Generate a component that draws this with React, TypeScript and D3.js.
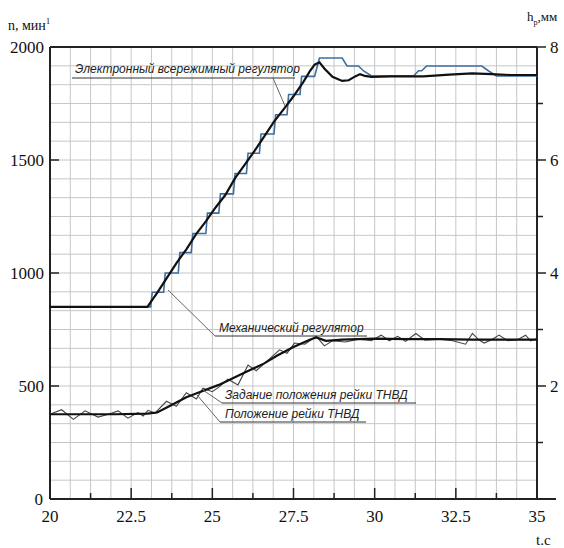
import * as React from 'react'
import * as d3 from 'd3'

// time axis, s
const timeTicks = [20, 22.5, 25, 27.5, 30, 32.5, 35];
const timeMinorTicks = [21.25, 23.75, 26.25, 28.75, 31.25, 33.75];
// left axis, rpm
const speedTicks = [0, 500, 1000, 1500, 2000];
// right axis, mm
const rackTicks = [2, 4, 6, 8];
const rackMinorTicks = [1, 3, 5, 7];

// [t, n]
const electronicSpeed = [
  [20, 850], [23.0, 850], [23.3, 912], [23.6, 978], [23.9, 1045], [24.2, 1105], [24.5, 1172],
  [24.8, 1228], [25.1, 1290], [25.4, 1345], [25.7, 1420], [26.0, 1480], [26.3, 1540],
  [26.6, 1605], [26.9, 1670], [27.2, 1725], [27.5, 1782], [27.8, 1845], [28.0, 1892],
  [28.15, 1922], [28.3, 1932], [28.45, 1905], [28.7, 1868], [29.0, 1850], [29.2, 1853],
  [29.4, 1870], [29.55, 1880], [29.7, 1872], [29.9, 1868], [30.5, 1870], [31.5, 1870],
  [32.3, 1878], [33.0, 1883], [33.6, 1880], [34.2, 1876], [35, 1876],
];

const mechanicalSpeed = [
  [20, 850], [23.1, 850], [23.15, 915], [23.5, 915], [23.55, 1000], [23.95, 1000],
  [24.0, 1090], [24.35, 1090], [24.4, 1175], [24.8, 1175], [24.85, 1265], [25.2, 1265],
  [25.25, 1350], [25.65, 1350], [25.7, 1440], [26.05, 1440], [26.1, 1530], [26.45, 1530],
  [26.5, 1615], [26.9, 1615], [26.95, 1700], [27.3, 1700], [27.35, 1790], [27.7, 1790],
  [27.75, 1870], [28.15, 1870], [28.3, 1951], [29.0, 1951], [29.15, 1916], [29.5, 1916],
  [29.65, 1895], [29.9, 1872], [31.2, 1872], [31.35, 1895], [31.45, 1895], [31.6, 1916],
  [33.3, 1916], [33.5, 1895], [33.75, 1872], [35, 1872],
];

// [t, hр mm]
const rackSetpoint = [
  [20, 1.5], [21, 1.5], [22, 1.5], [23, 1.51], [23.3, 1.53], [23.7, 1.65], [24.2, 1.8],
  [24.6, 1.89], [25.2, 2.02], [26.0, 2.24], [26.6, 2.4], [27.0, 2.54], [27.5, 2.69],
  [28.0, 2.82], [28.2, 2.86], [28.5, 2.8], [29, 2.82], [30, 2.84], [31, 2.83], [32, 2.83],
  [33, 2.82], [34, 2.82], [35, 2.82],
];

const rackPosition = [
  [20, 1.5], [20.36, 1.58], [20.72, 1.41], [21.08, 1.56], [21.48, 1.45], [21.8, 1.5],
  [22.1, 1.56], [22.4, 1.43], [22.71, 1.53], [22.87, 1.47], [23.02, 1.57], [23.23, 1.52],
  [23.59, 1.73], [23.89, 1.64], [24.2, 1.88], [24.51, 1.77], [24.71, 1.96], [25.0, 1.9],
  [25.2, 1.98], [25.48, 2.12], [25.79, 2.02], [26.1, 2.37], [26.35, 2.27], [26.7, 2.45],
  [27.07, 2.64], [27.3, 2.58], [27.53, 2.76], [27.85, 2.74], [28.2, 2.88], [28.45, 2.71],
  [28.7, 2.8], [29.1, 2.78], [29.5, 2.83], [29.9, 2.8], [30.2, 2.9], [30.45, 2.8],
  [30.71, 2.88], [30.95, 2.79], [31.27, 2.93], [31.55, 2.81], [32.0, 2.83], [32.4, 2.8],
  [32.8, 2.74], [33.01, 2.93], [33.2, 2.82], [33.37, 2.76], [33.6, 2.82], [33.83, 2.9],
  [34.1, 2.8], [34.4, 2.82], [34.65, 2.9], [34.8, 2.8], [35, 2.84],
];

const serif = { fontFamily: 'Liberation Serif, serif' };
const sans = { fontFamily: 'Liberation Sans, Arial, sans-serif', fontStyle: 'italic' };

const App = () => {
  const width = 564;
  const height = 548;
  const left = 50, right = 537, top = 47, bottom = 499;

  const x = d3.scaleLinear().domain([20, 35]).range([left, right]);
  const yN = d3.scaleLinear().domain([0, 2000]).range([bottom, top]);
  const yH = d3.scaleLinear().domain([0, 8]).range([bottom, top]);

  const lineN = d3.line<number[]>().x(d => x(d[0])).y(d => yN(d[1]));
  const lineH = d3.line<number[]>().x(d => x(d[0])).y(d => yH(d[1]));

  const gridX = d3.range(0, 25).map(i => 20 + i * 0.625);
  const gridY = d3.range(0, 25).map(i => i * 2000 / 24);

  return (
    <svg width={width} height={height}
      style={{ position: 'absolute', left: 0, top: 0, display: 'block', background: '#fff' }}>
      {/* grid */}
      <g stroke="#c6c6c6" strokeWidth={1}>
        {gridX.map((t, i) => <line key={'gx' + i} x1={x(t)} x2={x(t)} y1={top} y2={bottom} />)}
        {gridY.map((v, i) => <line key={'gy' + i} x1={left} x2={right} y1={yN(v)} y2={yN(v)} />)}
      </g>

      {/* frame */}
      <g stroke="#222" fill="none">
        <line x1={left} x2={right} y1={top} y2={top} strokeWidth={2} />
        <line x1={left} x2={left} y1={top} y2={bottom} strokeWidth={2} />
        <line x1={right} x2={right} y1={top} y2={bottom} strokeWidth={2} />
        <line x1={left} x2={556} y1={bottom} y2={bottom} strokeWidth={2} />
      </g>

      {/* ticks */}
      <g stroke="#222" strokeWidth={1.5}>
        {timeTicks.map(t => <line key={'tt' + t} x1={x(t)} x2={x(t)} y1={bottom} y2={bottom - 11} />)}
        {timeMinorTicks.map(t => <line key={'tm' + t} x1={x(t)} x2={x(t)} y1={bottom} y2={bottom - 6} />)}
        {speedTicks.slice(1, 4).map(v => <line key={'st' + v} x1={left} x2={left + 9} y1={yN(v)} y2={yN(v)} />)}
        {rackTicks.map(v => <line key={'rt' + v} x1={right} x2={right + 9} y1={yH(v)} y2={yH(v)} />)}
        {rackMinorTicks.map(v => <line key={'rm' + v} x1={right} x2={right + 6} y1={yH(v)} y2={yH(v)} />)}
      </g>

      {/* tick labels */}
      <g style={serif} fontSize={17} fill="#111">
        {timeTicks.map(t => (
          <text key={'tl' + t} x={x(t)} y={bottom + 23} textAnchor="middle">{t}</text>
        ))}
        {speedTicks.map(v => (
          <text key={'sl' + v} x={v === 0 ? 43 : 44} y={yN(v) + 6} textAnchor="end">{v}</text>
        ))}
        {rackTicks.map(v => (
          <text key={'rl' + v} x={550} y={yH(v) + 6} textAnchor="start">{v}</text>
        ))}
      </g>

      {/* axis titles */}
      <text x={8} y={30} style={serif} fontSize={14} fill="#111">
        n, мин<tspan dy={-6} fontSize={9}>1</tspan>
      </text>
      <text x={527} y={21} style={serif} fontSize={13} fill="#111">
        h<tspan dy={4} fontSize={8}>р</tspan><tspan dy={-4}>,мм</tspan>
      </text>
      <text x={536} y={545} style={serif} fontSize={15} fill="#111">t.c</text>

      {/* series */}
      <path d={lineN(mechanicalSpeed) || ''} fill="none" stroke="#3f6f9f" strokeWidth={1.6} />
      <path d={lineN(electronicSpeed) || ''} fill="none" stroke="#111" strokeWidth={2.2} />
      <path d={lineH(rackPosition) || ''} fill="none" stroke="#444" strokeWidth={1.1} />
      <path d={lineH(rackSetpoint) || ''} fill="none" stroke="#111" strokeWidth={2.2} />

      {/* annotations */}
      <g stroke="#666" strokeWidth={1} fill="none">
        <line x1={72} x2={295} y1={78} y2={78} stroke="#333" />
        <line x1={273} y1={78} x2={285} y2={106} />
        <line x1={168} y1={290} x2={215} y2={336} />
        <line x1={215} x2={367} y1={336} y2={336} stroke="#333" />
        <line x1={203} y1={390} x2={222} y2={403} />
        <line x1={222} x2={416} y1={403} y2={403} stroke="#333" />
        <line x1={197} y1={395} x2={220} y2={422} />
        <line x1={220} x2={366} y1={422} y2={422} stroke="#333" />
      </g>
      <g style={sans} fontSize={12} fill="#222">
        <text x={75} y={73}>Электронный всережимный регулятор</text>
        <text x={219} y={332}>Механический регулятор</text>
        <text x={225} y={399}>Задание положения рейки ТНВД</text>
        <text x={225} y={418}>Положение рейки ТНВД</text>
      </g>
    </svg>
  );
};

export default App;
